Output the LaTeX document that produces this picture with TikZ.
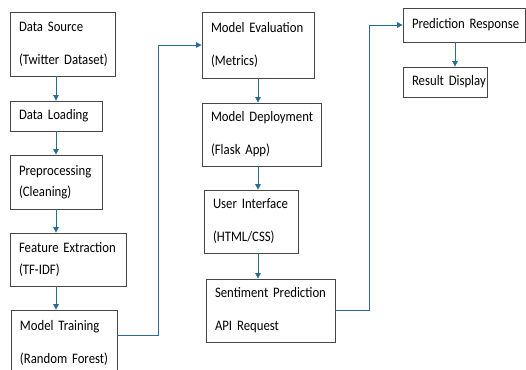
\documentclass[tikz,border=0pt]{standalone}
\usepackage{fontspec}
\setmainfont{Carlito}[FakeStretch=0.88, WordSpace=0.8]
\definecolor{flowblue}{RGB}{40,108,145}
\definecolor{boxgray}{RGB}{70,70,70}
\usetikzlibrary{arrows.meta,positioning,calc}

\begin{document}
\begin{tikzpicture}[x=1pt, y=-1pt,
    stage/.style={draw=boxgray, line width=0.8pt, fill=white, inner xsep=5pt, inner ysep=0pt, align=left,
      font=\fontsize{14.5}{17}\selectfont,
      execute at begin node={\leftskip=4pt\hyphenpenalty=10000}},
    flow/.style={-{Triangle[length=5.5pt,width=5.5pt]}, flowblue, line width=0.8pt}]
  \useasboundingbox (0,0) rectangle (526,369);
  \clip (0,0) rectangle (526,369);

  %--- Training column ---
  \node[stage, text width=95pt, minimum height=64pt] (src) at (62.5,44) {Data Source\\[16pt](Twitter Dataset)};
  \node[stage, text width=82pt, minimum height=30pt] (load) at (56,116) {Data Loading};
  \node[stage, text width=82pt, minimum height=54pt] (prep) at (56,182) {Preprocessing\\[4pt](Cleaning)};
  \node[stage, text width=106pt, minimum height=53pt] (feat) at (68,259.5) {Feature Extraction\\[5pt](TF-IDF)};
  \node[stage, text width=96pt, minimum height=65pt] (train) at (64,342.5) {Model Training\\[16pt](Random Forest)};

  \draw[flow] (load |- src.south) -- (load.north);
  \draw[flow] (load.south) -- (prep.north);
  \draw[flow] (load |- prep.south) -- (load |- feat.north);
  \draw[flow] (load |- feat.south) -- (load |- train.north);

  %--- Deployment column ---
  \node[stage, text width=102pt, minimum height=66pt] (eval) at (258,45) {Model Evaluation\\[16pt](Metrics)};
  \node[stage, text width=109pt, minimum height=63pt] (deploy) at (261.5,134.5) {Model Deployment\\[16pt](Flask App)};
  \node[stage, text width=84pt, minimum height=63pt] (ui) at (251,221.5) {User Interface\\[16pt](HTML/CSS)};
  \node[stage, text width=119pt, minimum height=63pt] (api) at (270.5,310.5) {Sentiment Prediction\\[16pt]API Request};

  \draw[flow] ([yshift=7pt]train.east) -- ++(41,0) |- (eval.west);
  \draw[flow] (eval.south) -- (eval.south |- deploy.north);
  \draw[flow] (eval |- deploy.south) -- (eval |- ui.north);
  \draw[flow] (eval |- ui.south) -- (eval |- api.north);

  %--- Response column ---
  \node[stage, text width=112pt, minimum height=34pt] (resp) at (464,25) {Prediction Response};
  \node[stage, text width=74pt, minimum height=30pt] (disp) at (445,82) {Result~Display};

  \draw[flow] (api.east) -- ++(34,0) |- (resp.west);
  \draw[flow] ([xshift=-9pt]resp.south) -- ([xshift=-9pt]resp.south |- disp.north);
\end{tikzpicture}
\end{document}
